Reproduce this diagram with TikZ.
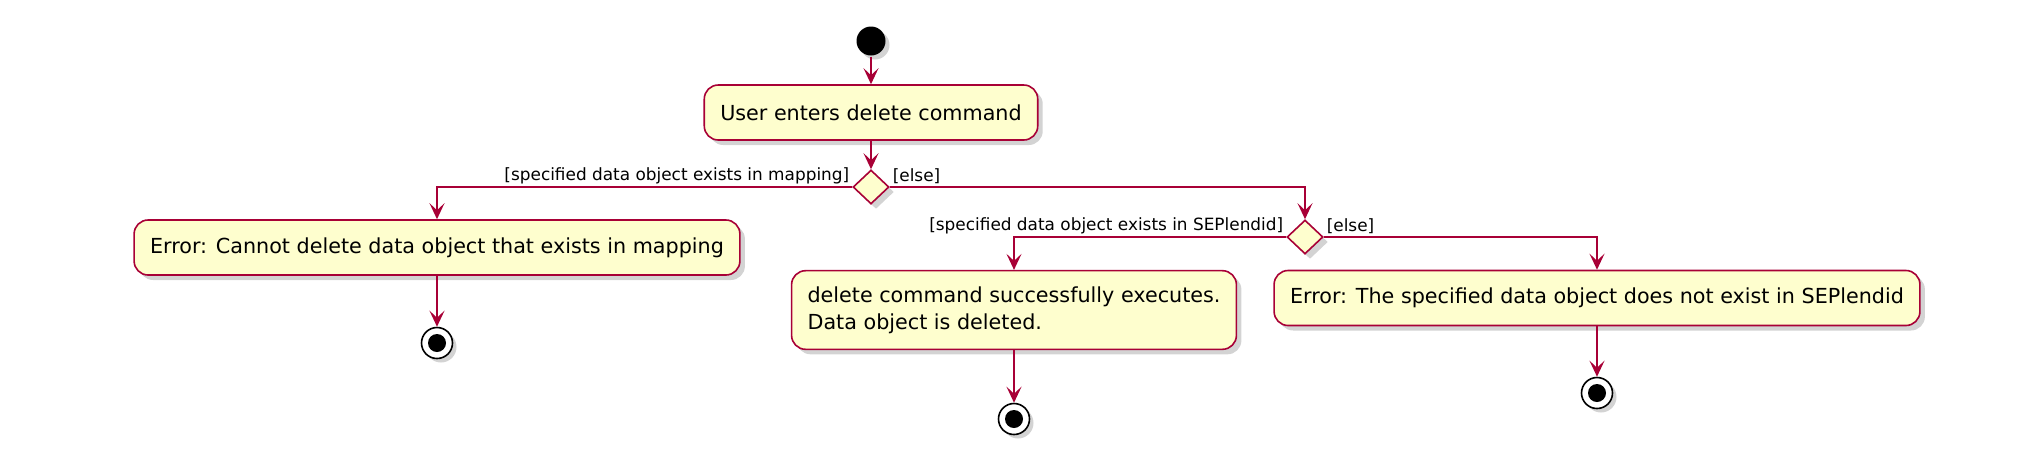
\documentclass[tikz,border=0pt]{standalone}
\usepackage{fontspec}
\setmainfont{DejaVu Sans}
\usetikzlibrary{shapes.geometric,arrows.meta,shadows}
\definecolor{umlred}{HTML}{A80036}
\definecolor{umlfill}{HTML}{FEFECE}

\begin{document}
\begin{tikzpicture}[x=0.5pt,y=-0.5pt,>={Stealth[length=8pt,width=7.5pt,inset=3.5pt]},line width=1pt]
  \tikzstyle{act}=[draw=umlred, fill=umlfill, line width=0.8pt, rounded corners=7pt, inner sep=8pt,
    minimum height=27.5pt, align=left, font=\fontsize{10.35}{13.3}\selectfont,
    drop shadow={opacity=0.35, shadow xshift=2.5pt, shadow yshift=-2.5pt}]
  \tikzstyle{branch}=[diamond, draw=umlred, fill=umlfill, line width=0.8pt, inner sep=0pt,
    minimum width=18pt, minimum height=17pt,
    drop shadow={opacity=0.35, shadow xshift=2.5pt, shadow yshift=-2.5pt}]
  \tikzstyle{guard}=[font=\fontsize{8.45}{10}\selectfont, inner sep=1pt]
  \tikzstyle{flow}=[->, draw=umlred, line width=1pt]
  \tikzstyle{startdot}=[circle, fill=black, minimum size=14.5pt, inner sep=0pt,
    drop shadow={opacity=0.35, shadow xshift=2pt, shadow yshift=-2pt}]
  \tikzstyle{enddot}=[circle, draw=black, fill=white, line width=0.8pt, minimum size=15.5pt, inner sep=0pt,
    drop shadow={opacity=0.35, shadow xshift=2pt, shadow yshift=-2pt},
    path picture={\fill[black] (path picture bounding box.center) circle (4.5pt);}]

  \useasboundingbox (0,0) rectangle (2040,462);

  \node[startdot] (start) at (871,41) {};
  \node[act] (enter) at (871,112.5) {User enters delete command};
  \node[branch] (inmap) at (871,187) {};

  \node[act] (errmap) at (437,247.5) {Error: Cannot delete data object that exists in mapping};
  \node[enddot] (endmap) at (437,343) {};

  \node[branch] (exists) at (1305,237) {};
  \node[act] (deleted) at (1014,310) {delete command successfully executes.\\Data object is deleted.};
  \node[enddot] (enddel) at (1014,419) {};
  \node[act] (errnone) at (1597,298) {Error: The specified data object does not exist in SEPlendid};
  \node[enddot] (endnone) at (1597,393) {};

  % guards
  \node[guard, anchor=south east] (gmap) at (inmap.west) {[specified data object exists in mapping]};
  \node[guard, anchor=south west] (gelse) at (inmap.east) {[else]};
  \node[guard, anchor=south east] (gsep) at (exists.west) {[specified data object exists in SEPlendid]};
  \node[guard, anchor=south west] (gelse2) at (exists.east) {[else]};

  \draw[flow] (start) -- (enter);
  \draw[flow] (enter) -- (inmap);
  \draw[flow] (inmap.west) -| (errmap.north);
  \draw[flow] (inmap.east) -| (exists.north);
  \draw[flow] (errmap) -- (endmap);
  \draw[flow] (exists.west) -| (deleted.north);
  \draw[flow] (exists.east) -| (errnone.north);
  \draw[flow] (deleted) -- (enddel);
  \draw[flow] (errnone) -- (endnone);
\end{tikzpicture}
\end{document}
